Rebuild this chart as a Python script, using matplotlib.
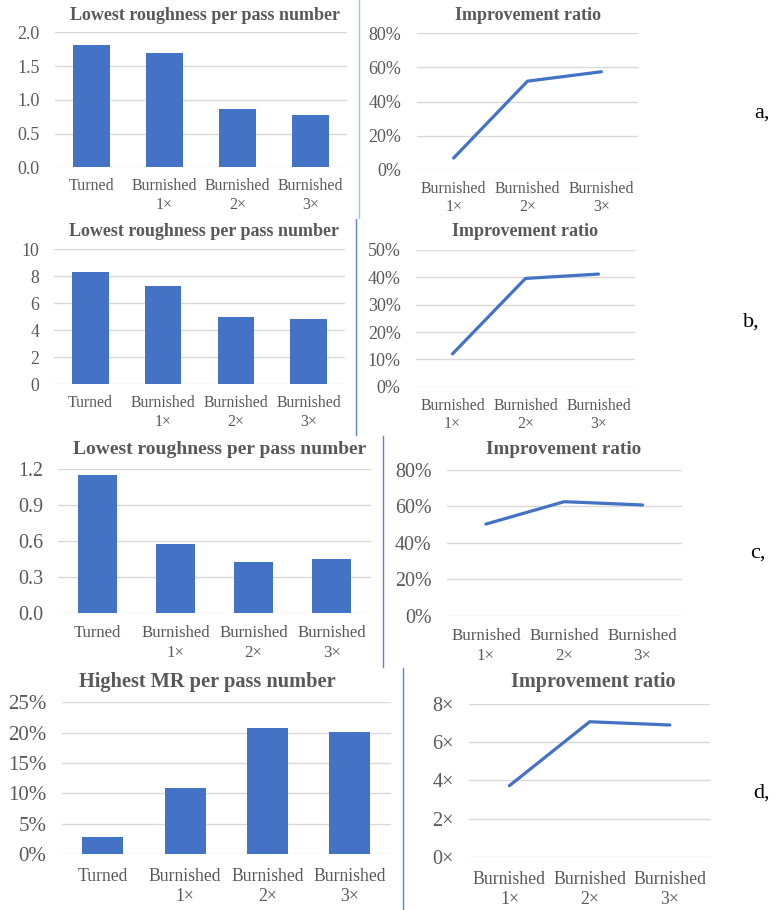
import matplotlib
matplotlib.use("Agg")
import matplotlib.pyplot as plt
import numpy as np
from matplotlib.ticker import FuncFormatter

plt.rcParams['font.family'] = ['Liberation Serif', 'DejaVu Serif']

# ---- data ----
bar_categories = ["Turned", "Burnished\n1\u00d7", "Burnished\n2\u00d7", "Burnished\n3\u00d7"]
line_categories = ["Burnished\n1\u00d7", "Burnished\n2\u00d7", "Burnished\n3\u00d7"]

roughness_a = [1.81, 1.69, 0.86, 0.78]
ratio_a = [0.07, 0.52, 0.575]

roughness_b = [8.34, 7.30, 5.01, 4.84]
ratio_b = [0.12, 0.396, 0.412]

roughness_c = [1.15, 0.57, 0.426, 0.446]
ratio_c = [0.503, 0.626, 0.608]

mr_d = [0.0275, 0.108, 0.207, 0.201]
ratio_d = [3.72, 7.07, 6.90]

row_labels = ["a,", "b,", "c,", "d,"]

BLUE = "#4472C4"
GRID = "#D9D9D9"
TXT = "#595959"

W, H = 775, 910
fig = plt.figure(figsize=(W / 100, H / 100), dpi=100)


def px_axes(x0, y0, x1, y1):
    return fig.add_axes([x0 / W, 1 - y1 / H, (x1 - x0) / W, (y1 - y0) / H])


def style(ax, ticks, fmt, xfs, yfs, xpad):
    ax.set_ylim(ticks[0], ticks[-1])
    ax.set_yticks(ticks)
    ax.yaxis.set_major_formatter(FuncFormatter(fmt))
    ax.grid(axis="y", color=GRID, lw=1.0)
    ax.set_axisbelow(True)
    for s in ax.spines.values():
        s.set_visible(False)
    ax.tick_params(axis="both", length=0, colors=TXT)
    ax.tick_params(axis="x", labelsize=xfs, pad=xpad)
    ax.tick_params(axis="y", labelsize=yfs, pad=11)


def bar_panel(box, values, ticks, fmt, title, title_xy, title_fs, xfs, yfs, ls, xpad):
    ax = px_axes(*box)
    x = np.arange(len(bar_categories))
    ax.bar(x, values, width=0.5, color=BLUE, zorder=2)
    ax.set_xlim(-0.5, len(bar_categories) - 0.5)
    ax.set_xticks(x)
    ax.set_xticklabels(bar_categories, linespacing=ls)
    style(ax, ticks, fmt, xfs, yfs, xpad)
    fig.text(title_xy[0] / W, 1 - title_xy[1] / H, title, ha="center", va="center",
             fontsize=title_fs, fontweight="bold", color=TXT)
    return ax


def line_panel(box, values, ticks, fmt, title_xy, title_fs, xfs, yfs, ls, xpad):
    ax = px_axes(*box)
    x = np.arange(len(line_categories))
    ax.plot(x, values, color=BLUE, lw=2.3, solid_capstyle="round",
            solid_joinstyle="round", zorder=3)
    ax.set_xlim(-0.5, len(line_categories) - 0.5)
    ax.set_xticks(x)
    ax.set_xticklabels(line_categories, linespacing=ls)
    style(ax, ticks, fmt, xfs, yfs, xpad)
    fig.text(title_xy[0] / W, 1 - title_xy[1] / H, "Improvement ratio", ha="center",
             va="center", fontsize=title_fs, fontweight="bold", color=TXT)
    return ax


f1 = lambda v, p: f"{v:.1f}"
f0 = lambda v, p: f"{v:.0f}"
fpct = lambda v, p: f"{v * 100:.0f}%"
ftimes = lambda v, p: f"{v:.0f}\u00d7"

# row a
bar_panel((55, 32.3, 347, 167.3), roughness_a, [0, 0.5, 1.0, 1.5, 2.0], f1,
          "Lowest roughness per pass number", (205, 15.5), 13, 11.4, 13, 1.18, 8)
line_panel((416.7, 33.3, 638.3, 170), ratio_a, [0, 0.2, 0.4, 0.6, 0.8], fpct,
           (528, 15.5), 13, 11.4, 13, 1.18, 8)

# row b
bar_panel((54.3, 249.3, 345, 384.3), roughness_b, [0, 2, 4, 6, 8, 10], f0,
          "Lowest roughness per pass number", (204, 231.7), 13, 11.3, 12.8, 1.18, 8)
line_panel((416, 250, 635, 386.7), ratio_b, [0, 0.1, 0.2, 0.3, 0.4, 0.5], fpct,
           (525, 231.7), 13, 11.3, 13, 1.18, 8)

# row c
bar_panel((58.3, 469, 370.7, 612.7), roughness_c, [0, 0.3, 0.6, 0.9, 1.2], f1,
          "Lowest roughness per pass number", (219.7, 450), 14, 12.1, 14.4, 1.3, 9)
line_panel((446.7, 470, 681.7, 615.7), ratio_c, [0, 0.2, 0.4, 0.6, 0.8], fpct,
           (563.8, 450), 13.8, 12.2, 14.4, 1.3, 9)

# row d
bar_panel((61.7, 702.3, 390.7, 854), mr_d, [0, 0.05, 0.10, 0.15, 0.20, 0.25], fpct,
          "Highest MR per pass number", (207.2, 682.3), 14.7, 12.7, 15, 1.26, 10)
line_panel((469.3, 704, 710, 856.7), ratio_d, [0, 2, 4, 6, 8], ftimes,
           (593.5, 682.3), 14.6, 12.8, 14.5, 1.26, 10)

# row letters
for lbl, (lx, ly) in zip(row_labels, [(761.7, 113), (751.7, 321.7), (758.3, 553.3), (761.7, 792.7)]):
    fig.text(lx / W, 1 - ly / H, lbl, ha="center", va="center", fontsize=16, color="black")

# vertical separators between panels
seps = [(359, 0, 218.3, "#A9C0E8"), (356.3, 219, 435, "#5B84D6"),
        (383.3, 436, 667, "#5B84D6"), (403.3, 668, 910, "#5B84D6")]
for sx, sy0, sy1, c in seps:
    fig.add_artist(plt.Line2D([sx / W, sx / W], [1 - sy0 / H, 1 - sy1 / H],
                              transform=fig.transFigure, color=c, lw=1.0))

fig.savefig("out.png", dpi=100, facecolor="white")
